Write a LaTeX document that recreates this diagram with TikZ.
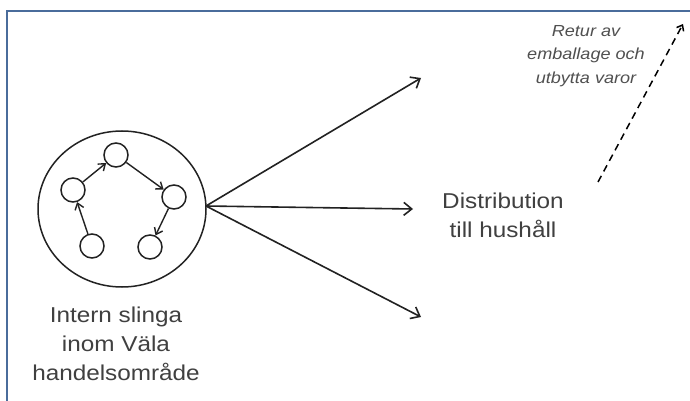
\documentclass[tikz,border=0pt]{standalone}
\usepackage{fontspec}
\setmainfont{Liberation Sans}
\newfontfamily\widesans[FakeStretch=1.13]{Liberation Sans}
\usetikzlibrary{arrows.meta,shapes.geometric}
\definecolor{framecol}{HTML}{4A6C9B}
\definecolor{txtcol}{HTML}{404040}
\definecolor{italcol}{HTML}{505050}
\definecolor{linecol}{HTML}{222222}
\tikzset{
  smallc/.style={circle,draw=linecol,line width=1.5pt,minimum size=24pt,inner sep=0pt},
  bigc/.style={ellipse,draw=linecol,line width=1.5pt,minimum width=168pt,minimum height=156pt,inner sep=0pt},
  inarrow/.style={line width=1.4pt,draw=linecol,-{Straight Barb[length=6pt,width=9pt,line width=1.4pt]}},
  fanarrow/.style={line width=1.6pt,draw=linecol,-{Straight Barb[length=8pt,width=13pt,line width=1.6pt]}},
  dasharrow/.style={line width=1.5pt,draw=black,dash pattern=on 7pt off 5pt,-{Straight Barb[length=5pt,width=8pt,line width=1.5pt]}},
  maintext/.style={align=center,text=txtcol,font=\widesans\fontsize{21.5pt}{29pt}\selectfont,inner sep=0pt},
  itext/.style={align=center,text=italcol,font=\widesans\itshape\fontsize{16pt}{23.5pt}\selectfont,inner sep=0pt}
}
\begin{document}
\begin{tikzpicture}[x=1pt,y=-1pt]
\useasboundingbox (0,0) rectangle (690,401);
\clip (0,0) rectangle (690,401);
\fill[white] (0,0) rectangle (690,401);
\draw[framecol,line width=2.4pt] (7,11) rectangle (720,430);

\node[bigc] (big) at (122,209) {};
\node[smallc] (top) at (116,155) {};
\node[smallc] (left) at (73,190) {};
\node[smallc] (right) at (174,197) {};
\node[smallc] (bl) at (92,246) {};
\node[smallc] (br) at (150,247) {};

\draw[inarrow] (bl) -- (left);
\draw[inarrow] (left) -- (top);
\draw[inarrow] (top) -- (right);
\draw[inarrow] (right) -- (br);

\coordinate (origin) at (206,206);
\coordinate (t1) at (421,78);
\coordinate (t2) at (413,209);
\coordinate (t3) at (421,317);
\draw[fanarrow] (origin) -- (t1);
\draw[fanarrow] (origin) -- (t2);
\draw[fanarrow] (origin) -- (t3);

\coordinate (d1) at (598,182);
\coordinate (d2) at (683,24);
\draw[dasharrow] (d1) -- (d2);

\node[maintext] (dist) at (503,215) {Distribution\\till hushåll};
\node[maintext] (intern) at (116,344) {Intern slinga\\inom Väla\\handelsområde};
\node[itext] (retur) at (586,56) {Retur av\\emballage och\\utbytta varor};
\end{tikzpicture}
\end{document}
